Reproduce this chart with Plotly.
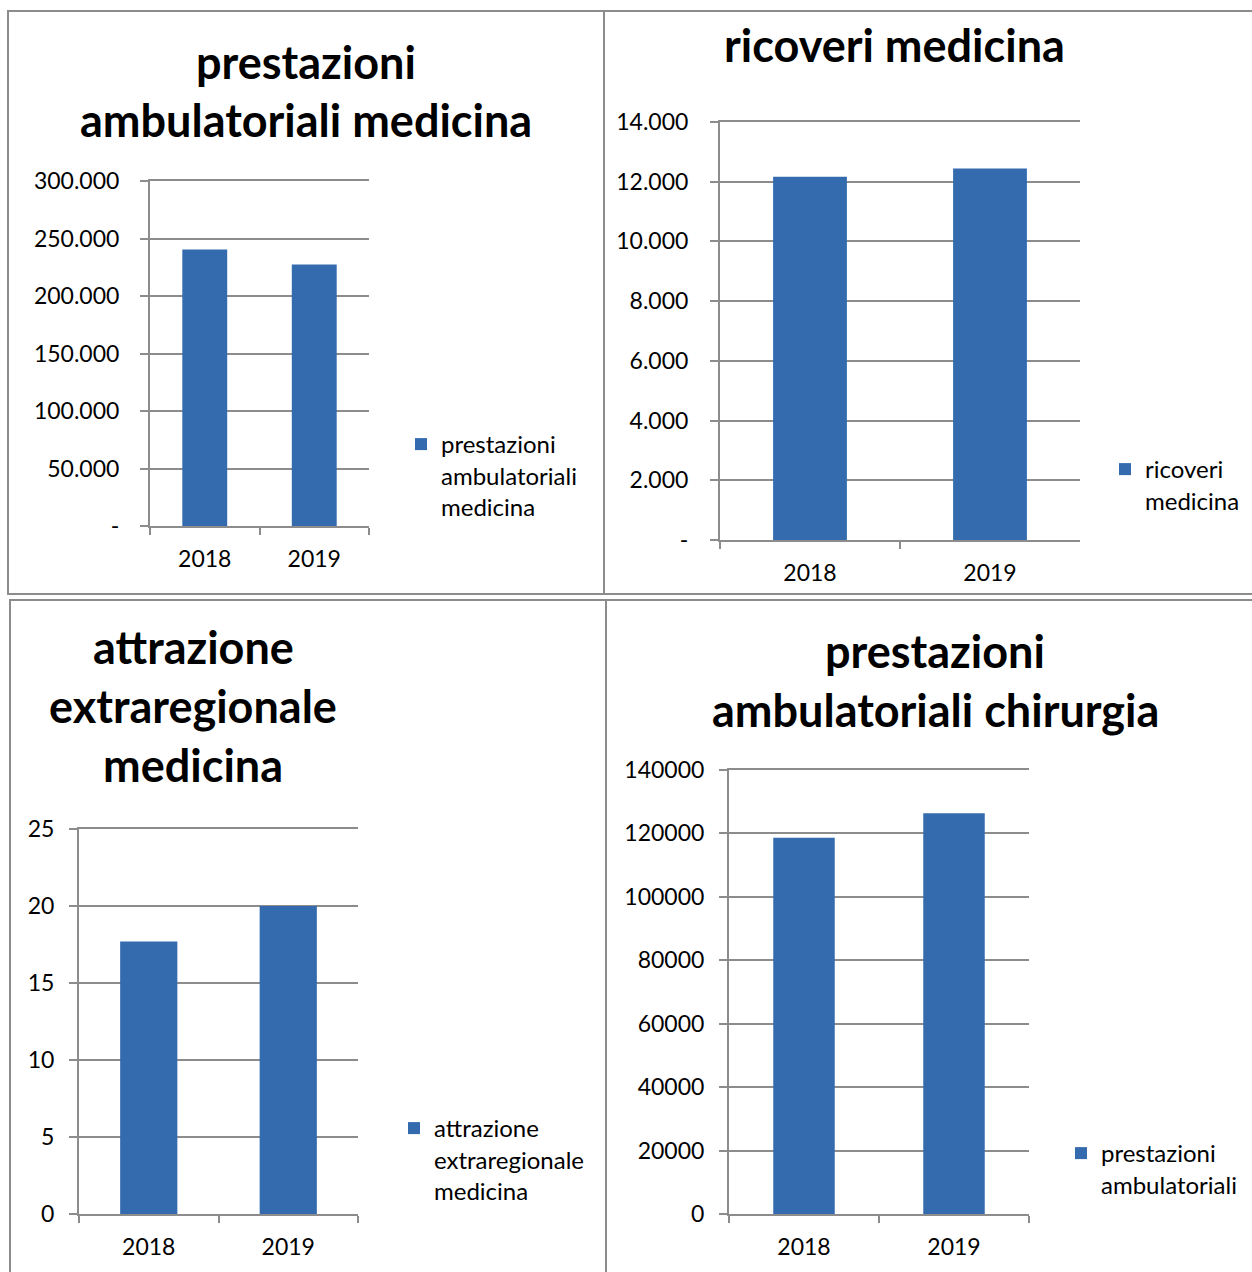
import plotly.graph_objects as go

W, H = 1252, 1272

# ---------------- data ----------------
years = ["2018", "2019"]

amb_med_name = "prestazioni<br>ambulatoriali<br>medicina"
amb_med_vals = [240500, 227300]
amb_med_ticks = [0, 50000, 100000, 150000, 200000, 250000, 300000]
amb_med_ticktext = ["-", "50.000", "100.000", "150.000", "200.000", "250.000", "300.000"]

ric_med_name = "ricoveri<br>medicina"
ric_med_vals = [12170, 12440]
ric_med_ticks = [0, 2000, 4000, 6000, 8000, 10000, 12000, 14000]
ric_med_ticktext = ["-", "2.000", "4.000", "6.000", "8.000", "10.000", "12.000", "14.000"]

attr_name = "attrazione<br>extraregionale<br>medicina"
attr_vals = [17.7, 20.0]
attr_ticks = [0, 5, 10, 15, 20, 25]
attr_ticktext = ["0", "5", "10", "15", "20", "25"]

amb_chir_name = "prestazioni<br>ambulatoriali"
amb_chir_vals = [118600, 126400]
amb_chir_ticks = [0, 20000, 40000, 60000, 80000, 100000, 120000, 140000]
amb_chir_ticktext = ["0", "20000", "40000", "60000", "80000", "100000", "120000", "140000"]

titles = [
    ["prestazioni", "ambulatoriali medicina"],
    ["ricoveri medicina"],
    ["attrazione", "extraregionale", "medicina"],
    ["prestazioni", "ambulatoriali chirurgia"],
]

# ---------------- helpers ----------------
def px(x):
    return x / W

def py(y):
    return 1 - y / H

BAR = "#346BAF"
GRID = "#8c8c8c"
FONT = "Lato"

fig = go.Figure()

panels = [
    # name, values, ticks, ticktext, range max, x px range, y px range (top,bottom), standoff
    (amb_med_name, amb_med_vals, amb_med_ticks, amb_med_ticktext, 300000, (150, 369), (181, 526), 16),
    (ric_med_name, ric_med_vals, ric_med_ticks, ric_med_ticktext, 14000, (720, 1080), (122, 540), 17),
    (attr_name, attr_vals, attr_ticks, attr_ticktext, 25, (79, 358), (829, 1214), 10),
    (amb_chir_name, amb_chir_vals, amb_chir_ticks, amb_chir_ticktext, 140000, (729, 1029), (770, 1214), 10),
]

legend_pos = [(401, 422), (1105, 447), (394, 1106), (1061, 1131)]

layout_upd = {}
for i, (name, vals, tv, tt, ymax, (x0, x1), (yt, yb), so) in enumerate(panels):
    n = i + 1
    xa = "xaxis" if n == 1 else f"xaxis{n}"
    ya = "yaxis" if n == 1 else f"yaxis{n}"
    lg = "legend" if n == 1 else f"legend{n}"
    fig.add_trace(go.Bar(
        x=years, y=vals, name=name, width=0.41,
        marker=dict(color=BAR, line=dict(width=0)),
        xaxis="x" if n == 1 else f"x{n}",
        yaxis="y" if n == 1 else f"y{n}",
        legend=lg, showlegend=True,
    ))
    layout_upd[xa] = dict(
        domain=[px(x0), px(x1)], anchor="y" if n == 1 else f"y{n}",
        showline=True, mirror=True, linecolor=GRID, linewidth=2,
        ticks="outside", tickson="boundaries", ticklen=7, tickcolor=GRID, tickwidth=2,
        showgrid=False, tickfont=dict(family=FONT, size=23, color="black"),
        ticklabelstandoff=11, fixedrange=True, automargin=False,
    )
    layout_upd[ya] = dict(
        domain=[py(yb), py(yt)], anchor="x" if n == 1 else f"x{n}",
        range=[0, ymax], tickvals=tv, ticktext=tt,
        showline=True, linecolor=GRID, linewidth=2,
        ticks="outside", ticklen=8, tickcolor=GRID, tickwidth=2,
        showgrid=True, gridcolor=GRID, gridwidth=2, zeroline=False,
        tickfont=dict(family=FONT, size=23, color="black"),
        ticklabelstandoff=so, fixedrange=True, automargin=False,
    )
    lx, ly = legend_pos[i]
    layout_upd[lg] = dict(
        x=px(lx), y=py(ly), xanchor="left", yanchor="top",
        font=dict(family=FONT, size=24, color="black"),
        valign="top", bgcolor="rgba(0,0,0,0)", borderwidth=0,
    )

# titles
title_lines = [
    [(306, 62), (306, 120)],
    [(894, 45)],
    [(193, 647), (193, 706), (193, 765)],
    [(935, 651), (935, 710)],
]
annotations = []
for lines, pos in zip(titles, title_lines):
    for txt, (tx, ty) in zip(lines, pos):
        annotations.append(dict(
            text=txt, x=px(tx), y=py(ty), xref="paper", yref="paper",
            xanchor="center", yanchor="middle", showarrow=False,
            font=dict(family=FONT, size=45, color="black", weight="bold"),
        ))

# panel borders
borders = [(8, 11, 604, 594), (604, 11, 1262, 594), (10, 600, 606, 1282), (606, 600, 1262, 1282)]
shapes = []
for (bx0, by0, bx1, by1) in borders:
    shapes.append(dict(
        type="rect", xref="paper", yref="paper",
        x0=px(bx0), x1=px(bx1), y0=py(by1), y1=py(by0),
        line=dict(color=GRID, width=2), fillcolor="rgba(0,0,0,0)", layer="below",
    ))

fig.update_layout(
    width=W, height=H, margin=dict(l=0, r=0, t=0, b=0, pad=0, autoexpand=False),
    paper_bgcolor="white", plot_bgcolor="white",
    annotations=annotations, shapes=shapes,
    font=dict(family=FONT, color="black"),
    **layout_upd,
)

fig.write_html("out.html", config={"displayModeBar": False})
